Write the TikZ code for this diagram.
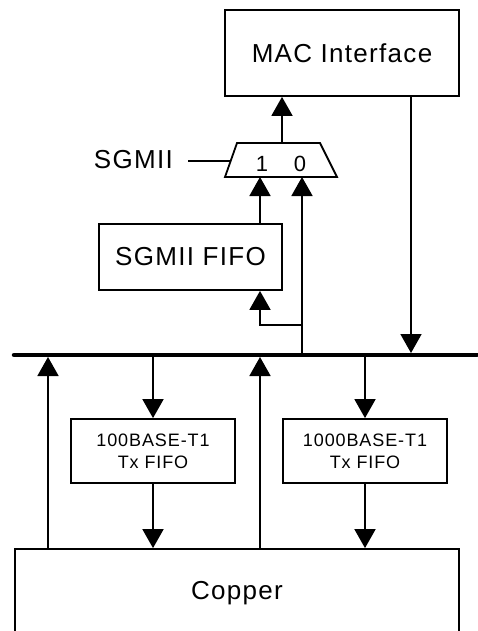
\documentclass[tikz,border=0pt]{standalone}
\usepackage{fontspec}
\setmainfont{Liberation Sans}[LetterSpace=5]
\usetikzlibrary{arrows.meta}
\begin{document}
\begin{tikzpicture}[x=1pt,y=-1pt,
  line/.style={line width=1.8pt},
  arr/.style={line width=1.8pt,-{Triangle[width=21pt,length=19pt]}},
  box/.style={draw,line width=1.8pt,inner sep=0pt,align=center},
  big/.style={font=\fontsize{26}{30}\selectfont},
  small/.style={font=\fontsize{18}{21.7}\selectfont}]
\useasboundingbox (0,0) rectangle (477,631);
\fill[white] (0,0) rectangle (477,631);
% boxes
\node[box,big,minimum width=234pt,minimum height=86pt] (mac) at (342,53) {MAC Interface};
\node[box,big,minimum width=183pt,minimum height=66pt] (fifo) at (190.5,257) {SGMII FIFO};
\node[box,small,minimum width=164pt,minimum height=64pt] (t100) at (153,451) {100BASE-T1\\Tx FIFO};
\node[box,small,minimum width=164pt,minimum height=64pt] (t1000) at (365,451) {1000BASE-T1\\Tx FIFO};
\node[box,big,minimum width=444pt,minimum height=111pt,text height=10pt,text depth=21pt] (copper) at (237,604.5) {Copper};
% mux
\draw[line,line join=miter] (237,143) -- (320,143) -- (337,177) -- (225,177) -- cycle;
\coordinate (muxtop) at (282,143);
\coordinate (mux1) at (260,177);
\coordinate (mux0) at (302,177);
\coordinate (sel) at (230.6,161);
\node[font=\fontsize{22}{26}\selectfont,inner sep=0pt,anchor=base] (one) at (262,171.7) {1};
\node[font=\fontsize{22}{26}\selectfont,inner sep=0pt,anchor=base] (zero) at (300,171.7) {0};
\node[big,inner sep=0pt,anchor=base east] (sgmii) at (173,168.3) {SGMII};
\draw[line] (sel -| sgmii.east) ++(15,0) -- (sel);
% bus
\coordinate (busL) at (14,355);
\coordinate (busR) at (477,355);
\draw[line width=4.5pt,line cap=round] (busL) -- (busR);
\draw[line width=4.5pt] (40,355) -- (busR);
% connections above bus
\draw[arr] (muxtop) -- (muxtop |- mac.south);
\draw[arr] (fifo.north -| mux1) -- (mux1);
\coordinate (bus0) at (302,355);
\coordinate (branch) at (302,325);
\draw[arr] (bus0) -- (mux0);
\draw[arr] (branch) -| (fifo.south -| mux1);
\coordinate (macdown) at (411,96);
\coordinate (macbus) at (411,353);
\draw[arr] (macdown) -- (macbus);
% connections below bus
\coordinate (up1) at (48,357);
\coordinate (up2) at (260,357);
\coordinate (dn1) at (153,355);
\coordinate (dn2) at (365,355);
\draw[arr] (copper.north -| up1) -- (up1);
\draw[arr] (copper.north -| up2) -- (up2);
\draw[arr] (dn1) -- (t100.north);
\draw[arr] (dn2) -- (t1000.north);
\draw[arr] (t100.south) -- (copper.north -| t100.south);
\draw[arr] (t1000.south) -- (copper.north -| t1000.south);
\end{tikzpicture}
\end{document}
